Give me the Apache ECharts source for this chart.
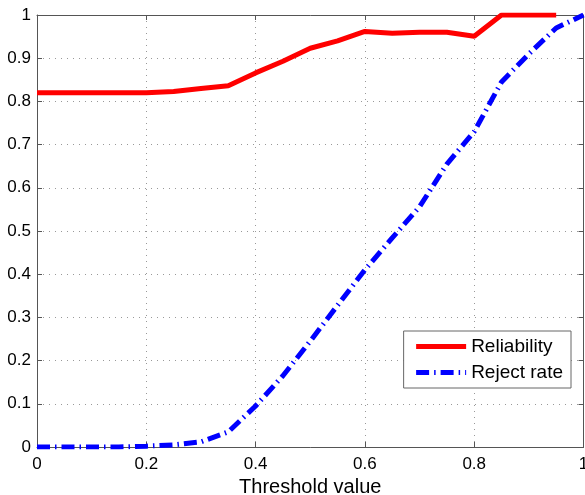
<!DOCTYPE html>
<html>
<head>
<meta charset="utf-8">
<script src="https://cdn.jsdelivr.net/npm/echarts@6/dist/echarts.min.js"></script>
<style>
html, body { margin: 0; padding: 0; background: #fff; }
#main { width: 585px; height: 495px; }
</style>
</head>
<body>
<div id="main"></div>
<script>
var thresholds = [0, 0.05, 0.1, 0.15, 0.2, 0.25, 0.3, 0.35, 0.4, 0.45, 0.5,
                  0.55, 0.6, 0.65, 0.7, 0.75, 0.8, 0.85, 0.9, 0.95, 1];
var reliability = [0.82, 0.82, 0.82, 0.82, 0.82, 0.823, 0.83, 0.836, 0.866, 0.893, 0.923,
                   0.94, 0.962, 0.958, 0.96, 0.96, 0.951, 1, 1, 1, null];
var rejectRate = [0, 0, 0, 0, 0.002, 0.005, 0.012, 0.035, 0.095, 0.165, 0.245,
                  0.328, 0.41, 0.484, 0.556, 0.655, 0.73, 0.845, 0.91, 0.97, 1];
var seriesNames = ['Reliability', 'Reject rate'];

function pairs(ys) {
	var out = [];
	for (var i = 0; i < thresholds.length; i++) {
		out.push([thresholds[i], ys[i]]);
	}
	return out;
}

var myChart = echarts.init(document.getElementById('main'));

var fontFam = '"Liberation Sans", Arial, Helvetica, sans-serif';
var axisCol = '#555';
var gridLine = { show: true, lineStyle: { color: '#999', type: [1, 5], width: 1 } };

function mainAxis(extra) {
	var ax = {
		type: 'value',
		min: 0,
		max: 1,
		axisLine: { show: true, onZero: false, lineStyle: { color: axisCol, width: 1 } },
		axisTick: { show: true, inside: true, length: 5, lineStyle: { color: axisCol } },
		axisLabel: { color: '#000', fontSize: 17, fontFamily: fontFam },
		splitLine: gridLine
	};
	for (var k in extra) ax[k] = extra[k];
	return ax;
}

// top / right axes: only the box line and inner ticks
function mirrorAxis(pos, interval) {
	return {
		type: 'value',
		position: pos,
		min: 0,
		max: 1,
		interval: interval,
		axisLine: { show: true, onZero: false, lineStyle: { color: axisCol, width: 1 } },
		axisTick: { show: true, inside: true, length: 5, lineStyle: { color: axisCol } },
		axisLabel: { show: false },
		splitLine: { show: false }
	};
}

var option = {
	backgroundColor: '#fff',
	animation: false,
	grid: { left: 37, right: 1.5, top: 15, bottom: 48, outerBoundsMode: 'none', containLabel: false },
	legend: {
		data: seriesNames,
		orient: 'vertical',
		right: 14,
		top: 331,
		itemWidth: 50,
		itemHeight: 14,
		itemGap: 7,
		padding: [6, 8, 6, 10],
		backgroundColor: '#fff',
		borderColor: '#666',
		borderWidth: 1,
		borderRadius: 0,
		itemStyle: { opacity: 0 },
		lineStyle: { width: 5 },
		textStyle: { color: '#000', fontSize: 19, fontFamily: fontFam }
	},
	xAxis: [
		mainAxis({
			position: 'bottom',
			interval: 0.2,
			name: 'Threshold value',
			nameLocation: 'middle',
			nameGap: 27,
			nameTextStyle: { color: '#000', fontSize: 20, fontFamily: fontFam },
			axisLabel: { color: '#000', fontSize: 17, fontFamily: fontFam, margin: 9 }
		}),
		mirrorAxis('top', 0.2)
	],
	yAxis: [
		mainAxis({
			position: 'left',
			interval: 0.1,
			axisLabel: { color: '#000', fontSize: 17, fontFamily: fontFam, margin: 6 }
		}),
		mirrorAxis('right', 0.1)
	],
	series: [
		{
			name: seriesNames[0],
			type: 'line',
			data: pairs(reliability),
			showSymbol: false,
			symbol: 'none',
			color: '#ff0000',
			lineStyle: { color: '#ff0000', width: 5, type: 'solid' },
			connectNulls: false
		},
		{
			name: seriesNames[1],
			type: 'line',
			data: pairs(rejectRate),
			showSymbol: false,
			symbol: 'none',
			color: '#0000ff',
			lineStyle: { color: '#0000ff', width: 5, type: [13, 5, 1.5, 5] }
		}
	]
};

myChart.setOption(option);
</script>
</body>
</html>
